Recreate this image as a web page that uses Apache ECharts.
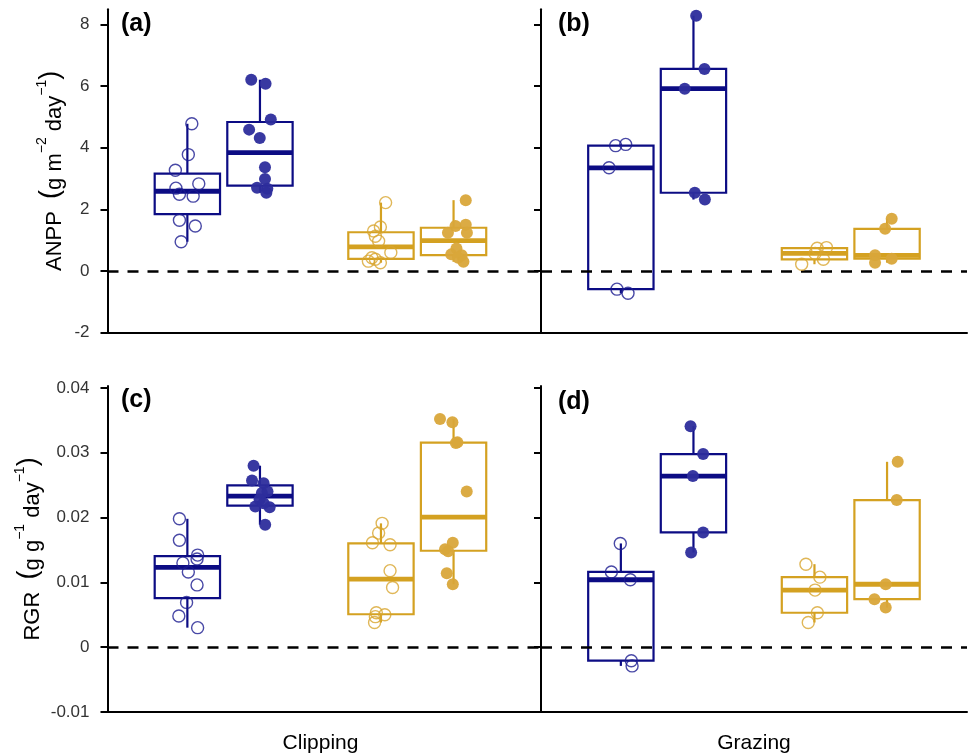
<!DOCTYPE html>
<html>
<head>
<meta charset="utf-8">
<script src="https://cdn.jsdelivr.net/npm/echarts@6/dist/echarts.min.js"></script>
<style>
html,body{margin:0;padding:0;background:#fff;}
#chart{width:969px;height:756px;}
</style>
</head>
<body>
<div id="chart"></div>
<script>
// ---------------- DATA ----------------
const treatments = ['Clipping', 'Grazing'];
const panelLabels = ['(a)', '(b)', '(c)', '(d)'];
const anppTicks = [-2, 0, 2, 4, 6, 8];
const rgrTicks = [-0.01, 0, 0.01, 0.02, 0.03, 0.04];

// ANPP (g m-2 day-1), Clipping
const anppClipBlueOpen = [4.78, 3.78, 3.27, 2.83, 2.69, 2.49, 2.43, 1.65, 1.46, 0.95];
const anppClipBlueOpenJitter = [0.023, 0.005, -0.062, 0.059, -0.059, -0.041, 0.030, -0.041, 0.041, -0.032];
const anppClipBlueFilled = [6.21, 6.08, 4.92, 4.59, 4.32, 3.37, 2.99, 2.70, 2.67, 2.54];
const anppClipBlueFilledJitter = [-0.045, 0.029, 0.056, -0.056, -0.001, 0.026, 0.026, -0.015, 0.038, 0.033];
const anppClipYellowOpen = [2.22, 1.43, 1.30, 1.13, 0.97, 0.60, 0.43, 0.38, 0.32, 0.27];
const anppClipYellowOpenJitter = [0.024, -0.003, -0.038, -0.029, -0.012, 0.051, -0.047, -0.029, -0.065, -0.003];
const anppClipYellowFilled = [2.30, 1.46, 1.50, 1.24, 1.24, 0.73, 0.54, 0.51, 0.43, 0.30];
const anppClipYellowFilledJitter = [0.063, 0.010, 0.063, -0.029, 0.069, 0.015, -0.012, 0.042, 0.024, 0.051];

// ANPP, Grazing
const anppGrazBlueOpen = [4.07, 4.11, 3.35, -0.59, -0.72];
const anppGrazBlueOpenJitter = [-0.027, 0.025, -0.061, -0.020, 0.037];
const anppGrazBlueFilled = [8.29, 6.56, 5.92, 2.54, 2.32];
const anppGrazBlueFilledJitter = [0.014, 0.057, -0.045, 0.007, 0.059];
const anppGrazYellowOpen = [0.76, 0.74, 0.57, 0.38, 0.22];
const anppGrazYellowOpenJitter = [0.062, 0.014, 0.003, 0.046, -0.066];
const anppGrazYellowFilled = [1.70, 1.37, 0.51, 0.27, 0.40];
const anppGrazYellowFilledJitter = [0.024, -0.010, -0.062, -0.062, 0.024];

// RGR (g g-1 day-1), Clipping
const rgrClipBlueOpen = [0.0198, 0.0165, 0.0142, 0.0136, 0.0130, 0.0116, 0.0096, 0.0069, 0.0048, 0.0030];
const rgrClipBlueOpenJitter = [-0.041, -0.041, 0.053, 0.050, -0.023, 0.005, 0.050, -0.004, -0.044, 0.053];
const rgrClipBlueFilled = [0.0280, 0.0257, 0.0253, 0.0238, 0.0240, 0.0228, 0.0217, 0.0216, 0.0189, 0.0222];
const rgrClipBlueFilledJitter = [-0.033, -0.041, 0.019, 0.010, 0.039, -0.002, -0.024, 0.050, 0.027, 0.019];
const rgrClipYellowOpen = [0.0191, 0.0176, 0.0161, 0.0158, 0.0118, 0.0092, 0.0053, 0.0050, 0.0047, 0.0038];
const rgrClipYellowOpenJitter = [0.006, -0.012, -0.044, 0.047, 0.047, 0.060, -0.024, 0.020, -0.029, -0.033];
const rgrClipYellowFilled = [0.0352, 0.0347, 0.0316, 0.0315, 0.0240, 0.0161, 0.0151, 0.0148, 0.0114, 0.0097];
const rgrClipYellowFilledJitter = [-0.070, -0.006, 0.020, 0.012, 0.068, -0.004, -0.044, -0.028, -0.035, -0.004];

// RGR, Grazing
const rgrGrazBlueOpen = [0.0160, 0.0116, 0.0104, -0.0021, -0.0029];
const rgrGrazBlueOpenJitter = [-0.003, -0.049, 0.049, 0.054, 0.058];
const rgrGrazBlueFilled = [0.0341, 0.0298, 0.0264, 0.0177, 0.0146];
const rgrGrazBlueFilledJitter = [-0.015, 0.050, -0.003, 0.050, -0.012];
const rgrGrazYellowOpen = [0.0128, 0.0108, 0.0088, 0.0053, 0.0038];
const rgrGrazYellowOpenJitter = [-0.044, 0.028, 0.003, 0.015, -0.032];
const rgrGrazYellowFilled = [0.0286, 0.0227, 0.0097, 0.0074, 0.0061];
const rgrGrazYellowFilledJitter = [0.055, 0.050, -0.007, -0.065, -0.007];

// ---------------- LAYOUT / STYLE ----------------
const FONT = '"Liberation Sans", Arial, Helvetica, sans-serif';
const GROUP_X = [0.8125, 1.1875, 1.8125, 2.1875]; // category (1,2) +/- dodge
const BOX_W = 0.3375;
const BOX_COLORS = ['#0c0c84', '#0c0c84', '#d4a121', '#d4a121'];
const PT_COLORS = ['#1c1c90', '#2d2d9c', '#d8a52e', '#d9a73a'];
const FILLED = [false, true, false, true];

const panels = [
  {groups: [[anppClipBlueOpen, anppClipBlueOpenJitter], [anppClipBlueFilled, anppClipBlueFilledJitter], [anppClipYellowOpen, anppClipYellowOpenJitter], [anppClipYellowFilled, anppClipYellowFilledJitter]]},
  {groups: [[anppGrazBlueOpen, anppGrazBlueOpenJitter], [anppGrazBlueFilled, anppGrazBlueFilledJitter], [anppGrazYellowOpen, anppGrazYellowOpenJitter], [anppGrazYellowFilled, anppGrazYellowFilledJitter]]},
  {groups: [[rgrClipBlueOpen, rgrClipBlueOpenJitter], [rgrClipBlueFilled, rgrClipBlueFilledJitter], [rgrClipYellowOpen, rgrClipYellowOpenJitter], [rgrClipYellowFilled, rgrClipYellowFilledJitter]]},
  {groups: [[rgrGrazBlueOpen, rgrGrazBlueOpenJitter], [rgrGrazBlueFilled, rgrGrazBlueFilledJitter], [rgrGrazYellowOpen, rgrGrazYellowOpenJitter], [rgrGrazYellowFilled, rgrGrazYellowFilledJitter]]}
];

function quantile(sorted, p) {
  const h = (sorted.length - 1) * p;
  const lo = Math.floor(h), hi = Math.ceil(h);
  return sorted[lo] + (h - lo) * (sorted[hi] - sorted[lo]);
}
function boxStats(vals) {
  const s = vals.slice().sort((a, b) => a - b);
  const q1 = quantile(s, 0.25), med = quantile(s, 0.5), q3 = quantile(s, 0.75);
  const iqr = q3 - q1;
  const inside = s.filter(v => v >= q1 - 1.5 * iqr && v <= q3 + 1.5 * iqr);
  return [inside[0], q1, med, q3, inside[inside.length - 1]];
}

function renderBox(params, api) {
  const x = api.value(0);
  const ci = api.value(6);
  const lo = api.coord([x, api.value(1)]);
  const q1 = api.coord([x, api.value(2)]);
  const md = api.coord([x, api.value(3)]);
  const q3 = api.coord([x, api.value(4)]);
  const hi = api.coord([x, api.value(5)]);
  const hw = api.size([BOX_W, 0])[0] / 2;
  const c = BOX_COLORS[ci];
  const cx = q1[0];
  return {
    type: 'group',
    children: [
      {type: 'line', shape: {x1: cx, y1: q3[1], x2: cx, y2: hi[1]}, style: {stroke: c, lineWidth: 2.2}},
      {type: 'line', shape: {x1: cx, y1: q1[1], x2: cx, y2: lo[1]}, style: {stroke: c, lineWidth: 2.2}},
      {type: 'rect', shape: {x: cx - hw, y: q3[1], width: 2 * hw, height: q1[1] - q3[1]}, style: {fill: '#fff', stroke: c, lineWidth: 2.2}},
      {type: 'line', shape: {x1: cx - hw, y1: md[1], x2: cx + hw, y2: md[1]}, style: {stroke: c, lineWidth: 4.8}}
    ]
  };
}

const grids = [
  {left: 107.5, top: 9.2, width: 433.5, height: 323.4},
  {left: 541, top: 9.2, width: 426, height: 323.4},
  {left: 107.5, top: 386, width: 433.5, height: 325.9},
  {left: 541, top: 386, width: 426, height: 325.9}
];

const xAxes = grids.map((g, i) => ({
  type: 'value', gridIndex: i, min: 0.4, max: 0.4 + g.width / 193.6,
  axisLine: {show: true, onZero: false, lineStyle: {color: '#000', width: 2}},
  axisTick: {show: false}, axisLabel: {show: false}, splitLine: {show: false}
}));

function yAxisFor(i) {
  const isAnpp = i < 2;
  const ticks = isAnpp ? anppTicks : rgrTicks;
  const showLab = (i % 2 === 0);
  const ax = {
    type: 'value', gridIndex: i,
    min: isAnpp ? -2 : -0.01, max: isAnpp ? 8.5 : 0.0403,
    axisLine: {show: true, onZero: false, lineStyle: {color: '#000', width: 2}},
    axisTick: {show: true, length: 7, customValues: ticks, lineStyle: {color: '#000', width: 2}},
    axisLabel: {show: showLab, customValues: ticks, margin: 18, color: '#333', fontSize: 17, fontFamily: FONT},
    splitLine: {show: false}
  };
  if (showLab) {
    ax.nameLocation = 'middle';
    ax.nameRotate = 90;
    ax.nameGap = isAnpp ? 42 : 64;
    ax.name = isAnpp
      ? '{t|ANPP}  {p|(}{t|g m}{s|\u22122}{t| day}{s|\u22121}{p|)}'
      : '{t|RGR}  {p|(}{t|g g}{s|\u22121}{t| day}{s|\u22121}{p|)}';
    ax.nameTextStyle = {
      color: '#000', fontFamily: FONT, fontSize: 22,
      rich: {
        t: {fontSize: 22, fontFamily: FONT, color: '#000', verticalAlign: 'bottom', lineHeight: 30},
        s: {fontSize: 14, fontFamily: FONT, color: '#000', verticalAlign: 'top', lineHeight: 30},
        p: {fontSize: 27, fontFamily: FONT, color: '#000', lineHeight: 30}
      }
    };
  }
  return ax;
}

const series = [];
panels.forEach((panel, pi) => {
  const boxData = panel.groups.map((g, gi) => [GROUP_X[gi]].concat(boxStats(g[0])).concat([gi]));
  series.push({
    type: 'custom', xAxisIndex: pi, yAxisIndex: pi, renderItem: renderBox,
    data: boxData, z: 2, silent: true, animation: false
  });
  panel.groups.forEach((g, gi) => {
    const vals = g[0], jit = g[1];
    series.push({
      type: 'scatter', xAxisIndex: pi, yAxisIndex: pi, silent: true, animation: false, z: 4,
      symbol: 'circle', symbolSize: 12,
      itemStyle: FILLED[gi]
        ? {color: PT_COLORS[gi], opacity: 0.95}
        : {color: 'rgba(255,255,255,0)', borderColor: PT_COLORS[gi], borderWidth: 1.4},
      data: vals.map((v, k) => [GROUP_X[gi] + jit[k], v])
    });
  });
  // dashed zero reference line
  series.push({
    type: 'scatter', xAxisIndex: pi, yAxisIndex: pi, data: [], silent: true, animation: false,
    markLine: {
      silent: true, symbol: ['none', 'none'], animation: false, z: 3,
      label: {show: false},
      lineStyle: {color: '#000', width: 2.5, type: [11, 9]},
      data: [{yAxis: 0}]
    }
  });
});

const graphic = [];
const labelPos = [[121, 24], [558, 24], [121, 400], [558, 402]];
panelLabels.forEach((t, i) => {
  graphic.push({type: 'text', x: labelPos[i][0], y: labelPos[i][1], silent: true,
    style: {text: t, fontSize: 25, fontWeight: 'bold', fontFamily: FONT, fill: '#000', align: 'left', verticalAlign: 'middle'}});
});
const treatX = [107.5 + 213, 541 + 213];
treatments.forEach((t, i) => {
  graphic.push({type: 'text', x: treatX[i], y: 743, silent: true,
    style: {text: t, fontSize: 21, fontFamily: FONT, fill: '#000', align: 'center', verticalAlign: 'middle'}});
});

const chart = echarts.init(document.getElementById('chart'), null, {renderer: 'canvas'});
chart.setOption({
  animation: false,
  backgroundColor: '#fff',
  grid: grids,
  xAxis: xAxes,
  yAxis: [0, 1, 2, 3].map(yAxisFor),
  series: series,
  graphic: graphic
});
</script>
</body>
</html>
